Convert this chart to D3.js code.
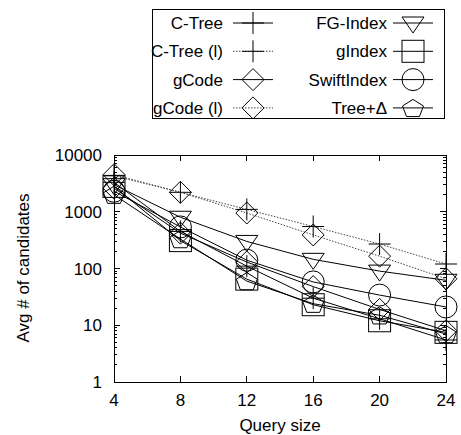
<!DOCTYPE html>
<html>
<head>
<meta charset="utf-8">
<style>
  body { margin: 0; background: #fff; }
  text { font-family: "Liberation Sans", Arial, sans-serif; font-size: 17px; fill: #000; }
</style>
</head>
<body>
<svg width="461" height="435"></svg>
<script src="https://cdnjs.cloudflare.com/ajax/libs/d3/7.8.5/d3.min.js"></script>
<script>
// data
var querySizes = [4, 8, 12, 16, 20, 24];
var seriesNames = ["C-Tree", "C-Tree (l)", "gCode", "gCode (l)", "FG-Index", "gIndex", "SwiftIndex", "Tree+\u0394"];
var cTree      = [3300, 450, 110, 30, 13, 5.5];
var cTreeL     = [4300, 2200, 1100, 550, 270, 120];
var gCode      = [2600, 420, 130, 48, 19, 8];
var gCodeL     = [4500, 2200, 950, 390, 165, 66];
var fgIndex    = [3000, 800, 300, 145, 90, 62];
var gIndex     = [2800, 310, 65, 23, 12, 7.5];
var swiftIndex = [2300, 540, 140, 58, 34, 21];
var treeDelta  = [2000, 330, 60, 24, 15, 7];
var yTicks = [1, 10, 100, 1000, 10000];

var allValues = [cTree, cTreeL, gCode, gCodeL, fgIndex, gIndex, swiftIndex, treeDelta];
var markers = ["plus", "plus", "diamond", "diamond", "tridown", "square", "circle", "pentagon"];
var dotted = [false, true, false, true, false, false, false, false];

var svg = d3.select("svg"),
    margin = {top: 155, right: 15, bottom: 53, left: 114},
    width = 461 - margin.left - margin.right,
    height = 435 - margin.top - margin.bottom,
    g = svg.append("g").attr("transform", "translate(" + margin.left + "," + margin.top + ")");

var x = d3.scaleLinear().domain([4, 24]).range([0, width]),
    y = d3.scaleLog().domain([1, 10000]).range([height, 0]);

var line = d3.line()
    .x(function(d) { return x(d.q); })
    .y(function(d) { return y(d.v); });

// draws one gnuplot-like point symbol at (cx, cy)
function drawMarker(sel, type, cx, cy) {
  var s = 11;
  if (type == "plus") {
    sel.append("path").attr("d", "M" + (cx - s) + "," + cy + "H" + (cx + s) + "M" + cx + "," + (cy - s) + "V" + (cy + s));
  } else if (type == "diamond") {
    sel.append("path").attr("d", "M" + cx + "," + (cy - s) + "L" + (cx + s) + "," + cy + "L" + cx + "," + (cy + s) + "L" + (cx - s) + "," + cy + "Z");
  } else if (type == "square") {
    sel.append("rect").attr("x", cx - s).attr("y", cy - s).attr("width", 2 * s).attr("height", 2 * s);
  } else if (type == "circle") {
    sel.append("circle").attr("cx", cx).attr("cy", cy).attr("r", s);
  } else if (type == "tridown") {
    sel.append("path").attr("d", "M" + (cx - s) + "," + (cy - 6) + "H" + (cx + s) + "L" + cx + "," + (cy + 10) + "Z");
  } else if (type == "pentagon") {
    var pts = d3.range(5).map(function(i) {
      var a = -Math.PI / 2 + i * 2 * Math.PI / 5;
      return [cx + 11 * Math.cos(a), cy + 9.5 * Math.sin(a) + 1];
    });
    sel.append("path").attr("d", "M" + pts.join("L") + "Z");
  }
}

// ticks: major + log minors, mirrored on right
var ticks = g.append("g").attr("stroke", "#000").attr("stroke-width", 1).attr("shape-rendering", "crispEdges");
yTicks.forEach(function(t, i) {
  ticks.append("line").attr("x1", 0).attr("x2", 6).attr("y1", y(t)).attr("y2", y(t));
  ticks.append("line").attr("x1", width).attr("x2", width - 6).attr("y1", y(t)).attr("y2", y(t));
  if (i < yTicks.length - 1) {
    for (var k = 2; k < 10; k++) {
      ticks.append("line").attr("x1", 0).attr("x2", 3).attr("y1", y(t * k)).attr("y2", y(t * k));
      ticks.append("line").attr("x1", width).attr("x2", width - 3).attr("y1", y(t * k)).attr("y2", y(t * k));
    }
  }
});
querySizes.forEach(function(q) {
  ticks.append("line").attr("x1", x(q)).attr("x2", x(q)).attr("y1", height).attr("y2", height - 6);
  ticks.append("line").attr("x1", x(q)).attr("x2", x(q)).attr("y1", 0).attr("y2", 6);
});

g.selectAll(".ylab").data(yTicks).enter().append("text")
    .attr("x", -12).attr("y", function(d) { return y(d); })
    .attr("dy", "0.36em").attr("text-anchor", "end")
    .text(function(d) { return d; });

g.selectAll(".xlab").data(querySizes).enter().append("text")
    .attr("x", function(d) { return x(d); }).attr("y", height + 24)
    .attr("text-anchor", "middle")
    .text(function(d) { return d; });

g.append("text").attr("x", width / 2).attr("y", height + 49)
    .attr("text-anchor", "middle").text("Query size");

g.append("text").attr("transform", "rotate(-90)")
    .attr("x", -113).attr("y", -85)
    .attr("text-anchor", "middle").text("Avg # of candidates");

// series
var series = seriesNames.map(function(name, i) {
  return { name: name, marker: markers[i], dotted: dotted[i],
           values: querySizes.map(function(q, j) { return {q: q, v: allValues[i][j]}; }) };
});

var s = g.selectAll(".series").data(series).enter().append("g")
    .attr("fill", "none").attr("stroke", "#000").attr("stroke-width", 1);

s.append("path")
    .attr("d", function(d) { return line(d.values); })
    .attr("stroke", function(d) { return d.dotted ? "#444" : "#000"; })
    .attr("stroke-dasharray", function(d) { return d.dotted ? "1.5,1.5" : null; });

s.each(function(d) {
  var grp = d3.select(this);
  d.values.forEach(function(p) { drawMarker(grp, d.marker, x(p.q), y(p.v)); });
});

// frame
g.append("rect").attr("width", width).attr("height", height)
    .attr("fill", "none").attr("stroke", "#000").attr("shape-rendering", "crispEdges");

// legend
var legend = svg.append("g");
legend.append("rect").attr("x", 152.5).attr("y", 9.5).attr("width", 292).attr("height", 109)
    .attr("fill", "none").attr("stroke", "#000");

series.forEach(function(d, i) {
  var col = Math.floor(i / 4), row = i % 4;
  var ty = 23 + row * 28.3;
  var textX = col == 0 ? 223 : 387;
  var sx = col == 0 ? 233 : 393;
  legend.append("text").attr("x", textX).attr("y", ty).attr("dy", "0.36em")
      .attr("text-anchor", "end").text(d.name);
  var lg = legend.append("g").attr("fill", "none").attr("stroke", "#000").attr("stroke-width", 1);
  lg.append("line").attr("x1", sx).attr("x2", sx + 40).attr("y1", ty).attr("y2", ty)
      .attr("stroke", d.dotted ? "#444" : "#000")
      .attr("stroke-dasharray", d.dotted ? "1.5,1.5" : null);
  drawMarker(lg, d.marker, sx + 20, ty);
});
</script>
</body>
</html>
